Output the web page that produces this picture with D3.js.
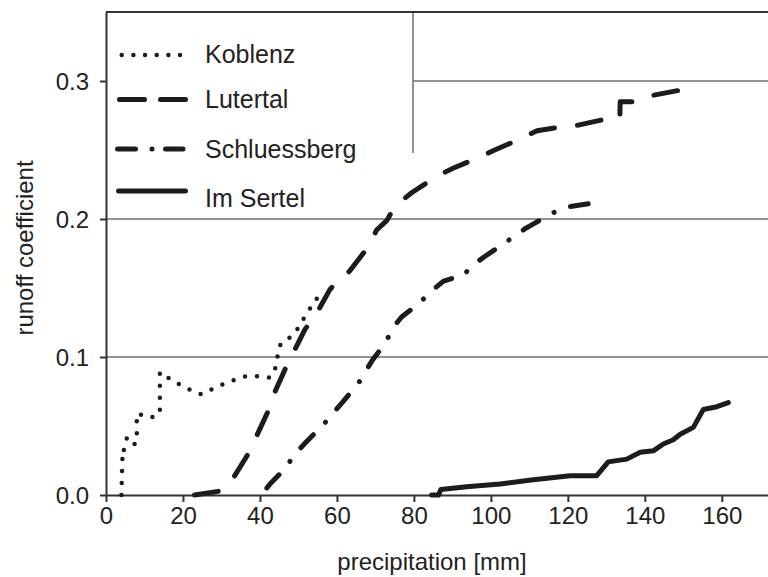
<!DOCTYPE html>
<html>
<head>
<meta charset="utf-8">
<title>Runoff coefficient vs precipitation</title>
<script src="https://d3js.org/d3.v7.min.js"></script>
<style>
  body { margin: 0; background: #fff; }
  text { font-family: "Liberation Sans", Arial, Helvetica, sans-serif; fill: #222; }
  .grid { stroke: #6e6e6e; stroke-width: 1.5; }
  .axis path, .axis line { stroke: #333; stroke-width: 2; }
  .series { fill: none; stroke: #1c1c1c; }
</style>
</head>
<body>
<svg id="chart" width="768" height="577"></svg>
<script>
// precipitation [mm] and runoff coefficient per catchment
const koblenzP = [4.0, 4.2, 4.3, 4.5, 4.8, 5.4, 6.2, 6.9, 8.0, 8.0, 11.7, 14.0, 14.0, 14.0, 17.8, 21.2, 24.7, 27.0, 30.1, 32.9, 36.2, 39.4, 42.7, 44.0, 44.6, 45.4, 48.3, 50.2, 52.2, 54.3, 56.1];
const koblenzC = [0.0, 0.02, 0.03, 0.029, 0.037, 0.041, 0.040, 0.036, 0.038, 0.059, 0.056, 0.059, 0.067, 0.089, 0.082, 0.077, 0.073, 0.076, 0.080, 0.083, 0.086, 0.086, 0.085, 0.092, 0.101, 0.110, 0.115, 0.122, 0.132, 0.140, 0.149];

const lutertalP = [23, 30, 33, 37, 39, 42, 43.3, 46.5, 48.3, 51.7, 54.8, 58.2, 60.5, 63.2, 68.2, 70.3, 73, 75, 79.4, 86, 90.3, 97.2, 101, 107.6, 112, 118.8, 122.7, 129.2, 133.5, 133.6, 137, 141, 148.5];
const lutertalC = [0, 0.003, 0.012, 0.03, 0.042, 0.06, 0.071, 0.091, 0.101, 0.12, 0.132, 0.149, 0.156, 0.162, 0.18, 0.192, 0.199, 0.209, 0.219, 0.231, 0.237, 0.245, 0.25, 0.258, 0.264, 0.267, 0.268, 0.272, 0.273, 0.285, 0.285, 0.289, 0.293];

const schluessP = [41.8, 42.6, 46.5, 48.9, 52.2, 56.5, 59.2, 61.7, 65.6, 67.3, 69.3, 72.8, 74.2, 76.8, 81.4, 84.6, 87.7, 90, 92.4, 95.5, 98.5, 103.3, 106.3, 108.9, 114.5, 117.3, 120.6, 125.3];
const schluessC = [0.005, 0.008, 0.019, 0.029, 0.039, 0.051, 0.06, 0.068, 0.081, 0.089, 0.098, 0.111, 0.12, 0.129, 0.139, 0.148, 0.155, 0.157, 0.158, 0.167, 0.173, 0.182, 0.188, 0.193, 0.202, 0.206, 0.209, 0.211];

const sertelP = [84.6, 86.4, 87.0, 93.7, 102.4, 111, 120.6, 127.5, 130.5, 135.3, 138.8, 142.2, 144.8, 147.4, 149.2, 152.6, 155.2, 158.7, 161.7];
const sertelC = [0, 0, 0.004, 0.006, 0.008, 0.011, 0.014, 0.014, 0.024, 0.026, 0.031, 0.032, 0.037, 0.040, 0.044, 0.049, 0.062, 0.064, 0.067];

const seriesNames = ["Koblenz", "Lutertal", "Schluessberg", "Im Sertel"];
const xTicks = [0, 20, 40, 60, 80, 100, 120, 140, 160];
const yTicks = [0, 0.1, 0.2, 0.3];

const svg = d3.select("#chart");
const mLeft = 106, mRight = 768, mTop = 12, mBottom = 495;

const x = d3.scaleLinear().domain([0, 172]).range([mLeft, mRight]);
const y = d3.scaleLinear().domain([0, 0.35]).range([mBottom, mTop]);

// horizontal grid lines (0.3 starts right of the legend box)
const legendEdge = 413;
svg.selectAll(".grid")
  .data(yTicks.filter(d => d > 0))
  .enter().append("line")
  .attr("class", "grid")
  .attr("x1", d => d >= 0.3 ? legendEdge : mLeft)
  .attr("x2", mRight)
  .attr("y1", d => y(d)).attr("y2", d => y(d));

// legend box edge
svg.append("line").attr("class", "grid")
  .attr("x1", legendEdge).attr("x2", legendEdge)
  .attr("y1", mTop).attr("y2", 153);

// top frame line
svg.append("line")
  .attr("x1", mLeft).attr("x2", mRight).attr("y1", mTop).attr("y2", mTop)
  .attr("stroke", "#333").attr("stroke-width", 2);

// axes
const xAxis = svg.append("g").attr("class", "axis")
  .attr("transform", `translate(0,${mBottom})`)
  .call(d3.axisBottom(x).tickValues(xTicks).tickSizeInner(7).tickSizeOuter(0).tickPadding(5));
const yAxis = svg.append("g").attr("class", "axis")
  .attr("transform", `translate(${mLeft},0)`)
  .call(d3.axisLeft(y).tickValues(yTicks).tickFormat(d3.format(".1f")).tickSizeInner(6).tickSizeOuter(0).tickPadding(11));
svg.selectAll(".axis text").attr("font-size", 24).style("font-family", '"Liberation Sans", Arial, sans-serif').attr("fill", "#222");
yAxis.selectAll("text").attr("dy", "0.36em");

svg.append("text")
  .attr("x", 432).attr("y", 570)
  .attr("text-anchor", "middle").attr("font-size", 24)
  .text("precipitation [mm]");
svg.append("text")
  .attr("transform", "translate(33,248) rotate(-90)")
  .attr("text-anchor", "middle").attr("font-size", 24)
  .text("runoff coefficient");

// series; dashed patterns are stretched a little so each path starts and ends on a dash
const styles = [
  { w: 4.5, dash: [0, 12], cap: "round" },
  { w: 5, dash: [24, 22], cap: "round" },
  { w: 5, dash: [18, 17, 0, 17], cap: "round" },
  { w: 5, dash: null, cap: "round" }
];
function fitDash(len, pat) {
  const period = d3.sum(pat);
  const n = Math.max(1, Math.round((len - pat[0]) / period));
  const k = (len - pat[0]) / (n * period);
  // keep the first dash as is, scale the rest
  const gaps = pat.slice(1).map(v => v * k);
  const extra = (len - pat[0]) - n * d3.sum(gaps) - n * pat[0];
  return [pat[0], ...gaps.map(g => g + extra / (n * gaps.length))].join(" ");
}
const lineGen = d3.line().x(d => x(d[0])).y(d => y(d[1]));
const seriesData = [
  d3.zip(koblenzP, koblenzC),
  d3.zip(lutertalP, lutertalC),
  d3.zip(schluessP, schluessC),
  d3.zip(sertelP, sertelC)
];
seriesData.forEach((pts, i) => {
  const p = svg.append("path").attr("class", "series")
    .attr("d", lineGen(pts))
    .attr("stroke-width", styles[i].w)
    .attr("stroke-linecap", styles[i].cap)
    .attr("stroke-linejoin", "round");
  if (styles[i].dash) {
    const len = p.node().getTotalLength();
    p.attr("stroke-dasharray", i === 0 ? styles[i].dash.join(" ") : fitDash(len, styles[i].dash));
  }
});

// legend
const legendY = [55, 99.5, 149, 191];
const legendText = [63, 108, 158, 207];
const legendSamples = [
  { x1: 121.7, x2: 181, dash: "0 11.67" },
  { x1: 119.5, x2: 185.5, dash: "25 16" },
  { x1: 117.5, x2: 183, dash: "18 16.5 0 13.5 17.5" },
  { x1: 118.5, x2: 185.5, dash: null }
];
seriesNames.forEach((name, i) => {
  svg.append("line").attr("class", "series")
    .attr("x1", legendSamples[i].x1).attr("x2", legendSamples[i].x2)
    .attr("y1", legendY[i]).attr("y2", legendY[i])
    .attr("stroke-width", styles[i].w)
    .attr("stroke-linecap", "round")
    .attr("stroke-dasharray", legendSamples[i].dash);
  svg.append("text")
    .attr("x", 205).attr("y", legendText[i])
    .attr("font-size", 25)
    .text(name);
});
</script>
</body>
</html>
